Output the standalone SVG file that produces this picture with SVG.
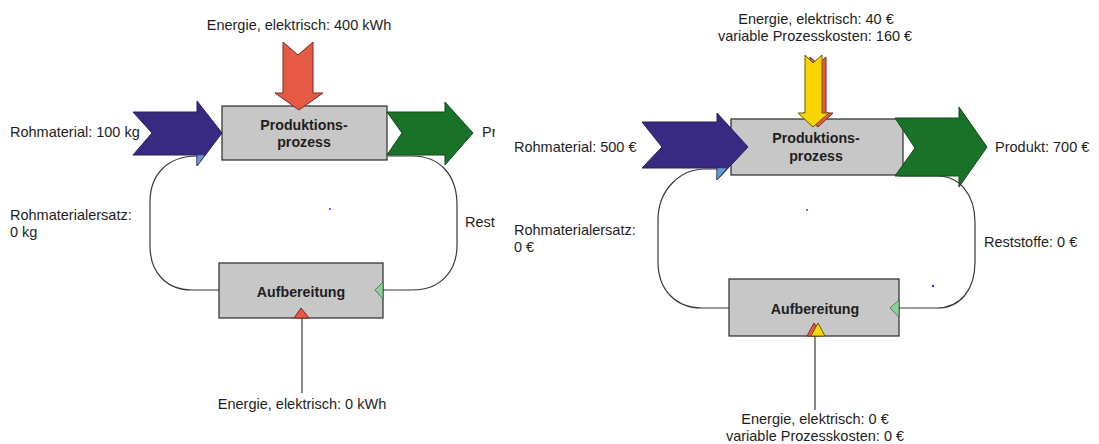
<svg xmlns="http://www.w3.org/2000/svg" width="1099" height="444" viewBox="0 0 1099 444">
<style>
text{font-family:"Liberation Sans",Arial,sans-serif;font-size:14.5px;fill:#1e1e1e}
.b{font-weight:bold;font-size:14.2px}
.m{text-anchor:middle}
.box{fill:#c6c7c6;stroke:#2a2a2a;stroke-width:1.2}
.blue{fill:#382a80;stroke:#24205a;stroke-width:1}
.green{fill:#197228;stroke:#0f4a18;stroke-width:1}
.red{fill:#e45a45;stroke:#7a2a20;stroke-width:1}
.yel{fill:#f9d600;stroke:#6a5a00;stroke-width:1}
.lb{fill:#6a9ad6;stroke:#2a3a60;stroke-width:0.6}
.lg{fill:#8ccf98;stroke:#2a4a2a;stroke-width:0.6}
.conn{fill:none;stroke:#3a3a3a;stroke-width:1.2}
.dot{fill:#2a2aff}
</style>
<defs>
<clipPath id="clipL"><rect x="0" y="0" width="495" height="444"/></clipPath>
</defs>

<g id="connectors">
<path class="conn" d="M219 290 H192 C166 290 150 272 150 246 V202 C150 174 168 156 197 156"/>
<path class="conn" d="M388 156 H412 C440 156 457 175 457 205 V245 C457 272 440 290 412 290 H383"/>
<line class="conn" x1="302" y1="318" x2="302" y2="393"/>
<path class="conn" d="M729 308 H702 C676 308 658 290 658 262 V220 C658 190 680 169 705 169 H717"/>
<path class="conn" d="M899 176 H937 C960 176 975 195 975 222 V262 C975 290 960 308 937 308 H899"/>
<line class="conn" x1="815" y1="336" x2="815" y2="410"/>
</g>

<!-- Left diagram -->
<g id="proc-left">
<rect class="box" x="222" y="106" width="165" height="54"/>
<text class="b m" x="304" y="130">Produktions-</text>
<text class="b m" x="304" y="147">prozess</text>
</g>
<g id="energy-in-left">
<polygon class="red" points="283,42 298,55 313,42 313,93 323,93 299,110 275,93 283,93"/>
<text class="m" x="299" y="30">Energie, elektrisch: 400 kWh</text>
</g>
<g id="raw-left">
<polygon class="blue" points="133,112 197,112 197,101 222,133 197,166 197,155 133,155 152,133"/>
<polygon class="lb" points="197,155 205,155 197,166"/>
<text x="10" y="137">Rohmaterial: 100 kg</text>
</g>
<g id="product-left">
<polygon class="green" points="387,112 445,112 445,102 473,133 445,165 445,155 387,155 402,133"/>
<text x="482" y="137" clip-path="url(#clipL)">Pr</text>
</g>
<g id="aufb-left">
<rect class="box" x="219" y="263" width="164" height="55"/>
<text class="b m" x="301" y="297">Aufbereitung</text>
<polygon class="lg" points="375,290 383,282 383,299"/>
<polygon class="red" points="294,318 301,308 309,318"/>
</g>
<g id="labels-left">
<text x="10" y="220">Rohmaterialersatz:</text>
<text x="10" y="237">0 kg</text>
<text x="465" y="227" clip-path="url(#clipL)">Rest</text>
<text class="m" x="302" y="409">Energie, elektrisch: 0 kWh</text>
<circle class="dot" cx="330" cy="209" r="0.9"/>
</g>

<!-- Right diagram -->
<g id="proc-right">
<rect class="box" x="731" y="119" width="172" height="56"/>
<text class="b m" x="816" y="143">Produktions-</text>
<text class="b m" x="816" y="161">prozess</text>
</g>
<g id="energy-in-right">
<polygon class="red" points="810,57 818,64 826,57 826,113 833,113 818,127 803,113 810,113"/>
<polygon class="yel" points="805,55 813,63 822,55 822,113 829,113 813,127 798,113 805,113"/>
<text class="m" x="816" y="24">Energie, elektrisch: 40 €</text>
<text class="m" x="815" y="41">variable Prozesskosten: 160 €</text>
</g>
<g id="raw-right">
<polygon class="blue" points="642,122 717,122 717,113 748,147 717,180 717,168 642,168 662,147"/>
<polygon class="lb" points="717,168 727,168 717,180"/>
<text x="514" y="152">Rohmaterial: 500 €</text>
</g>
<g id="product-right">
<polygon class="green" points="895,118 959,118 959,107 987,147 959,187 959,176 895,176 915,148"/>
<text x="995" y="152">Produkt: 700 €</text>
</g>
<g id="aufb-right">
<rect class="box" x="729" y="279" width="170" height="57"/>
<text class="b m" x="815" y="314">Aufbereitung</text>
<polygon class="lg" points="890,308 899,300 899,317"/>
<polygon class="red" points="807,336 814,323 821,336"/>
<polygon class="yel" points="811,336 818,323 825,336"/>
</g>
<g id="labels-right">
<text x="514" y="235">Rohmaterialersatz:</text>
<text x="514" y="252">0 €</text>
<text x="984" y="247">Reststoffe: 0 €</text>
<text class="m" x="815" y="424">Energie, elektrisch: 0 €</text>
<text class="m" x="815" y="441">variable Prozesskosten: 0 €</text>
<circle class="dot" cx="807" cy="210" r="0.9"/>
<circle class="dot" cx="933" cy="286" r="1.2"/>
</g>
</svg>
